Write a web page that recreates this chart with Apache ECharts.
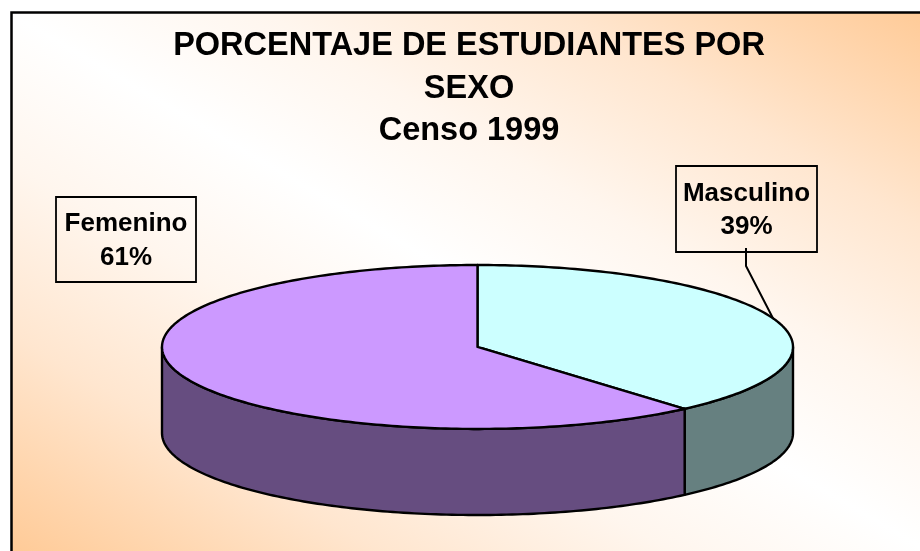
<!DOCTYPE html>
<html>
<head>
<meta charset="utf-8">
<style>
  html, body { margin: 0; padding: 0; background: #fff; }
  #chart { width: 920px; height: 551px; }
</style>
</head>
<body>
<div id="chart"></div>
<script src="https://cdn.jsdelivr.net/npm/echarts@6/dist/echarts.min.js"></script>
<script>
const titleLines = ['PORCENTAJE DE ESTUDIANTES POR', 'SEXO', 'Censo 1999']
// clockwise from 12 o'clock
const sliceNames = ['Masculino', 'Femenino']
const sliceValues = [38.6, 61.4]
const topColors = ['#CCFFFF', '#CC99FF']
const sideColors = ['#668080', '#664D80']

const FONT = '"Liberation Sans", Arial, sans-serif'
const DEPTH = 1.05 // thickness of the disc, in y axis units
const total = sliceValues.reduce((s, v) => s + v, 0)

let acc = 0
const sliceData = sliceValues.map((v, i) => {
  const start = (acc / total) * 360
  acc += v
  return [start, (acc / total) * 360, i]
})

// boxes sit where the reference has them
const labelBoxes = [
  { x: 676, y: 166, width: 141, height: 86, elbow: [746, 266] },
  { x: 56, y: 197, width: 140, height: 85 },
]

const pointAt = deg => {
  const t = (deg * Math.PI) / 180
  return [Math.sin(t), Math.cos(t)]
}

const arc = (from, to, drop) => {
  const pts = []
  const steps = Math.max(1, Math.ceil(Math.abs(to - from)))
  for (let i = 0; i <= steps; i++) {
    const p = pointAt(from + ((to - from) * i) / steps)
    pts.push([p[0], p[1] - drop])
  }
  return pts
}

const renderSlice = (params, api) => {
  const start = api.value(0)
  const end = api.value(1)
  const idx = api.value(2)
  const children = []
  const stroke = { stroke: '#000', lineWidth: 2.4, lineJoin: 'round' }

  // the wall only shows on the front half of the disc
  const wallFrom = Math.max(start, 90)
  const wallTo = Math.min(end, 270)
  if (wallTo > wallFrom) {
    const pts = arc(wallFrom, wallTo, 0).concat(arc(wallTo, wallFrom, DEPTH))
    children.push({
      type: 'polygon',
      shape: { points: pts.map(p => api.coord(p)) },
      style: { fill: sideColors[idx], ...stroke },
    })
  }

  const topPts = [[0, 0]].concat(arc(start, end, 0))
  children.push({
    type: 'polygon',
    shape: { points: topPts.map(p => api.coord(p)) },
    style: { fill: topColors[idx], ...stroke },
  })

  const box = labelBoxes[idx]
  if (box.elbow) {
    const anchor = api.coord(pointAt((start + end) / 2))
    children.push({
      type: 'polyline',
      shape: { points: [[box.elbow[0], box.y + box.height - 4], box.elbow, anchor] },
      style: { fill: null, stroke: '#000', lineWidth: 2 },
    })
  }
  return { type: 'group', children }
}

const labelGraphics = labelBoxes.map((b, i) => ({
  type: 'group',
  z: 10,
  children: [
    {
      type: 'rect',
      shape: { x: b.x, y: b.y, width: b.width, height: b.height },
      style: { fill: null, stroke: '#000', lineWidth: 1.8 },
    },
    {
      type: 'text',
      x: b.x + b.width / 2,
      y: b.y + b.height / 2 + 1.5,
      style: {
        text: `${sliceNames[i]}\n${Math.round((sliceValues[i] / total) * 100)}%`,
        fill: '#000',
        font: `bold 26px ${FONT}`,
        lineHeight: 33.5,
        align: 'center',
        verticalAlign: 'middle',
      },
    },
  ],
}))

const chart = echarts.init(document.getElementById('chart'), null, { renderer: 'canvas' })
chart.setOption({
  animation: false,
  backgroundColor: '#fff',
  title: {
    text: titleLines.join('\n'),
    left: 464,
    top: 20,
    textAlign: 'center',
    textStyle: { fontFamily: FONT, fontSize: 32.5, fontWeight: 'bold', color: '#000', lineHeight: 42.5 },
  },
  graphic: [
    {
      type: 'rect',
      z: -1,
      shape: { x: 11.5, y: 12.5, width: 930, height: 560 },
      style: {
        fill: new echarts.graphic.LinearGradient(698, -118, 232, 678, [
          { offset: 0, color: '#FFCB98' },
          { offset: 0.2, color: '#FFE6CF' },
          { offset: 0.36, color: '#FFF6EE' },
          { offset: 0.5, color: '#FFFFFF' },
          { offset: 0.64, color: '#FFF6EE' },
          { offset: 0.8, color: '#FFE6CF' },
          { offset: 1, color: '#FFCB98' },
        ], true),
        stroke: '#000',
        lineWidth: 2.5,
      },
    },
    ...labelGraphics,
  ],
  grid: { left: 162, top: 265, width: 631, height: 250 },
  xAxis: { type: 'value', min: -1, max: 1, show: false },
  yAxis: { type: 'value', min: -1 - DEPTH, max: 1, show: false },
  series: [
    {
      type: 'custom',
      coordinateSystem: 'cartesian2d',
      clip: false,
      silent: true,
      encode: { x: 0, y: 1 },
      renderItem: renderSlice,
      data: sliceData,
    },
  ],
})
</script>
</body>
</html>
